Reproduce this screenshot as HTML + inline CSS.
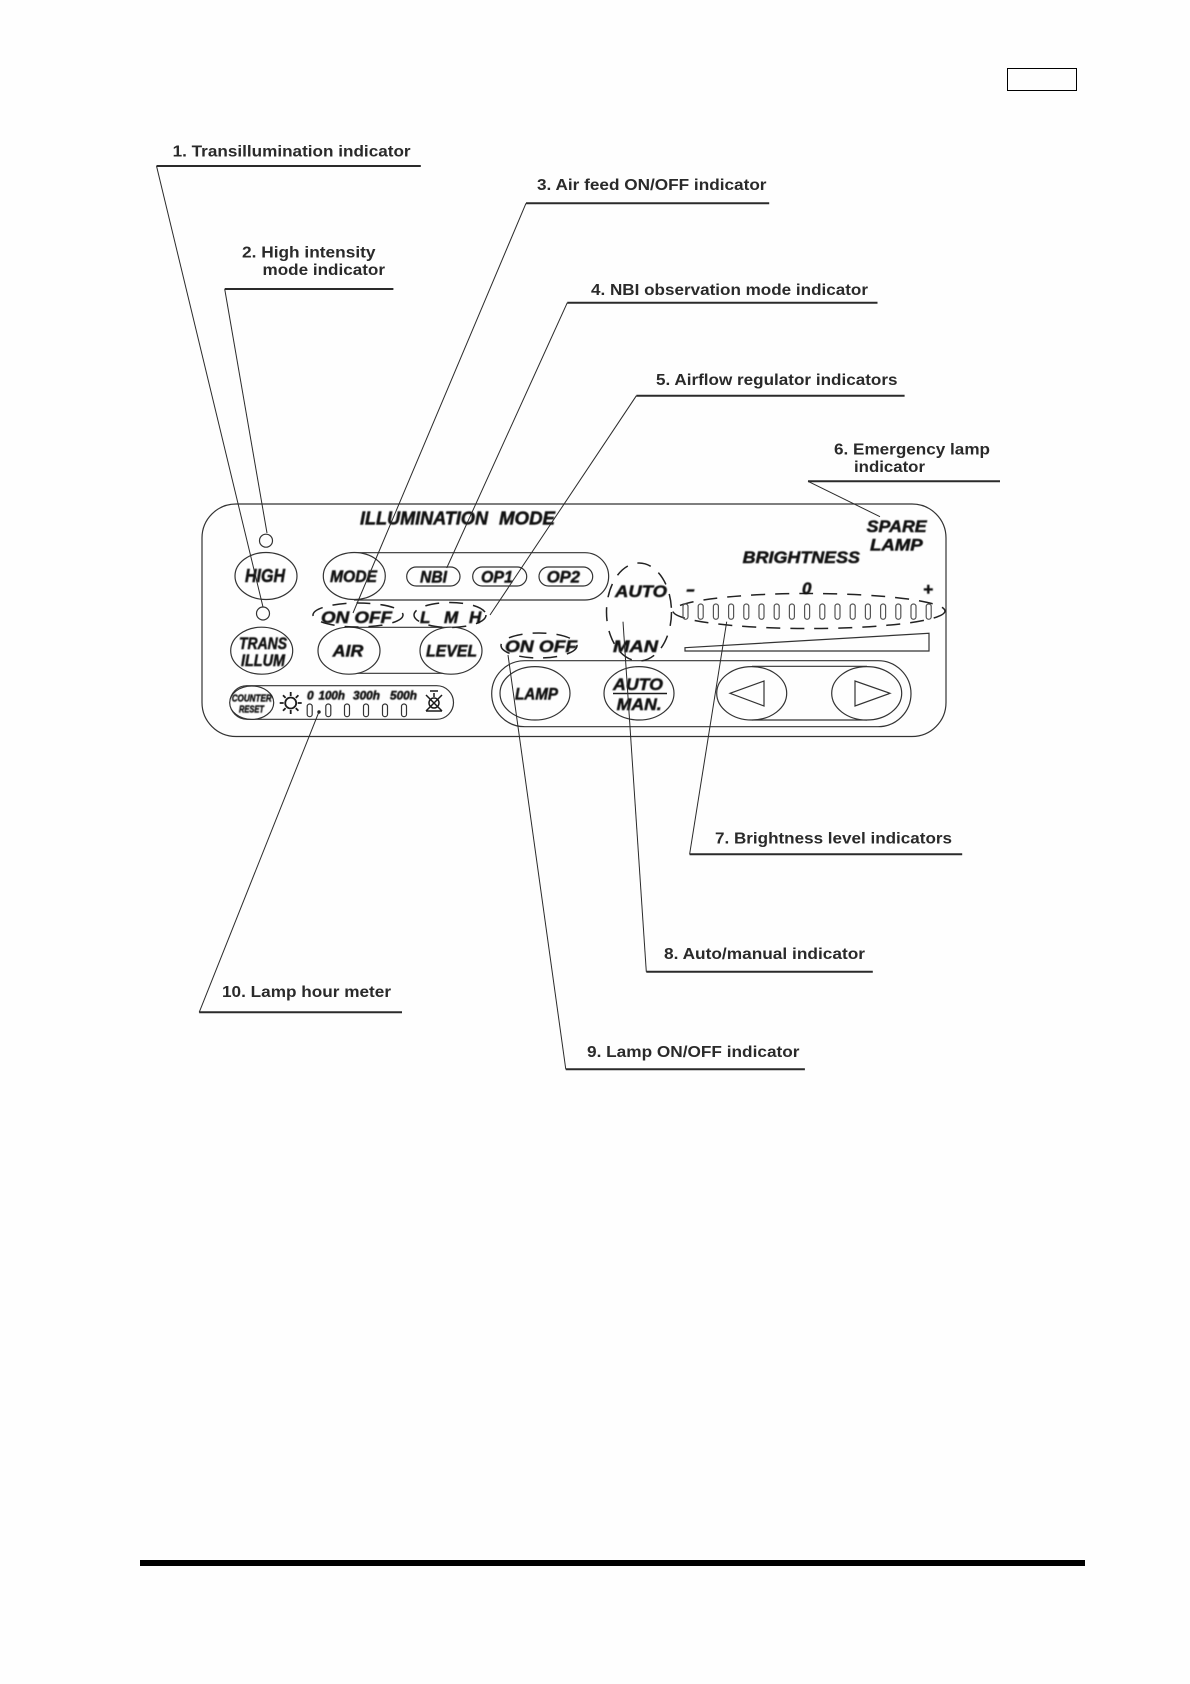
<!DOCTYPE html>
<html lang="en">
<head>
<meta charset="utf-8">
<title>Front panel indicators</title>
<style>
html,body{margin:0;padding:0;background:#fefefe;width:1190px;height:1684px;overflow:hidden}
svg{display:block}
.lb{font:bold 16px "Liberation Sans",sans-serif;fill:#2a2a2a;filter:blur(.35px)}
.p{font:italic bold 17px "Liberation Sans",sans-serif;fill:#111;stroke:#111;stroke-width:.5;filter:blur(.4px)}
.sm{font-size:12px}
.xs{font-size:10.5px}
.big{font-size:18px}
.o{fill:#fefefe;stroke:#333;stroke-width:1.2}
.n{fill:none;stroke:#333;stroke-width:1.2}
.d{fill:none;stroke:#222;stroke-width:1.5;stroke-dasharray:14 10}
.lead{stroke:#2a2a2a;stroke-width:1;fill:none}
.h{stroke:#2a2a2a;stroke-width:2}
</style>
</head>
<body>
<svg width="1190" height="1684" viewBox="0 0 1190 1684" xmlns="http://www.w3.org/2000/svg">
<rect width="1190" height="1684" fill="#fefefe"/>
<rect x="1007.5" y="68.5" width="69" height="22" fill="none" stroke="#000" stroke-width="1"/>
<rect x="140" y="1560" width="945" height="6" fill="#000"/>

<!-- panel -->
<rect x="202" y="504" width="744" height="232.5" rx="34" ry="34" class="n"/>
<path class="n" d="M354 552.7H585a23.6 23.6 0 0 1 0 47.3H354"/>
<path class="n" d="M349 627.3H451M349 673.3H451"/>
<rect x="230" y="685.7" width="223.5" height="33.6" rx="16.8" class="n"/>
<rect x="491.7" y="660.7" width="419.3" height="66" rx="33" class="n"/>
<path class="n" d="M752 666.3H867M752 720H867"/>
<path class="n" d="M685 647.7L929 633.3V651H685Z"/>

<circle cx="266" cy="540.7" r="6.5" class="n"/>
<circle cx="263" cy="613.5" r="6.5" class="n"/>
<ellipse cx="266" cy="576" rx="31" ry="23.5" class="o"/>
<ellipse cx="354.3" cy="576" rx="31" ry="23.5" class="o"/>
<ellipse cx="261.7" cy="650.7" rx="31" ry="23.5" class="o"/>
<ellipse cx="349" cy="650.7" rx="31" ry="23.5" class="o"/>
<ellipse cx="451" cy="650.7" rx="31" ry="23.5" class="o"/>
<rect x="406.7" y="567" width="53.3" height="19" rx="9.5" class="o"/>
<rect x="472.7" y="567" width="54" height="19" rx="9.5" class="o"/>
<rect x="539" y="567" width="53.7" height="19" rx="9.5" class="o"/>
<ellipse cx="251.7" cy="702.7" rx="22" ry="16.7" class="o"/>
<ellipse cx="535" cy="693.3" rx="35" ry="26.7" class="o"/>
<ellipse cx="639" cy="693.3" rx="35" ry="26.7" class="o"/>
<ellipse cx="751.7" cy="693.3" rx="35" ry="26.7" class="o"/>
<ellipse cx="866.7" cy="693.3" rx="35" ry="26.7" class="o"/>
<path class="n" d="M730 693.3L764 681V706Z"/>
<path class="n" d="M855 681V706L890 693.3Z"/>
<path d="M613 693.5H667" stroke="#1c1c1c" stroke-width="1.5"/>

<!-- dashed groups -->
<ellipse cx="358" cy="615" rx="45" ry="12" class="d"/>
<ellipse cx="450" cy="615" rx="36" ry="12.5" class="d"/>
<ellipse cx="539" cy="645.5" rx="38" ry="12.5" class="d"/>
<ellipse cx="639" cy="612" rx="32.5" ry="49" class="d"/>
<ellipse cx="809" cy="611" rx="136" ry="17.5" class="d"/>

<!-- lamp meter bars -->
<g class="n">
<rect x="307.2" y="704" width="5" height="12.7" rx="2.5"/>
<rect x="325.8" y="704" width="5" height="12.7" rx="2.5"/>
<rect x="344.5" y="704" width="5" height="12.7" rx="2.5"/>
<rect x="363.5" y="704" width="5" height="12.7" rx="2.5"/>
<rect x="382.5" y="704" width="5" height="12.7" rx="2.5"/>
<rect x="401.5" y="704" width="5" height="12.7" rx="2.5"/>
</g>
<circle cx="319" cy="712" r="1.7" fill="#222"/>

<!-- brightness bars -->
<g class="n" style="stroke:#555">
<rect x="683" y="604" width="5" height="15.3" rx="2.5"/>
<rect x="698.2" y="604" width="5" height="15.3" rx="2.5"/>
<rect x="713.4" y="604" width="5" height="15.3" rx="2.5"/>
<rect x="728.6" y="604" width="5" height="15.3" rx="2.5"/>
<rect x="743.8" y="604" width="5" height="15.3" rx="2.5"/>
<rect x="759" y="604" width="5" height="15.3" rx="2.5"/>
<rect x="774.2" y="604" width="5" height="15.3" rx="2.5"/>
<rect x="789.4" y="604" width="5" height="15.3" rx="2.5"/>
<rect x="804.6" y="604" width="5" height="15.3" rx="2.5"/>
<rect x="819.8" y="604" width="5" height="15.3" rx="2.5"/>
<rect x="835" y="604" width="5" height="15.3" rx="2.5"/>
<rect x="850.2" y="604" width="5" height="15.3" rx="2.5"/>
<rect x="865.4" y="604" width="5" height="15.3" rx="2.5"/>
<rect x="880.6" y="604" width="5" height="15.3" rx="2.5"/>
<rect x="895.8" y="604" width="5" height="15.3" rx="2.5"/>
<rect x="911" y="604" width="5" height="15.3" rx="2.5"/>
<rect x="926.2" y="604" width="5" height="15.3" rx="2.5"/>
</g>

<!-- sun icon -->
<g stroke="#1c1c1c" stroke-width="1.8" fill="none">
<circle cx="290.7" cy="703" r="5.5"/>
<path d="M290.7 692v4M290.7 710v4M279.7 703h4M297.7 703h4M283 695.3l2.6 2.6M295.8 708.1l2.6 2.6M283 710.7l2.6-2.6M295.8 697.9l2.6-2.6"/>
</g>
<!-- crossed lamp icon -->
<g stroke="#1c1c1c" stroke-width="1.5" fill="none">
<circle cx="434" cy="703" r="5"/>
<path d="M434 693v4M426 695l16 16M442 695l-16 16M426 711h16M430 691h8"/>
</g>

<!-- panel text -->
<g class="p">
<text class="big" x="360" y="524.5" textLength="128" lengthAdjust="spacingAndGlyphs">ILLUMINATION</text>
<text class="big" x="499" y="524.5" textLength="56" lengthAdjust="spacingAndGlyphs">MODE</text>
<text class="big" x="245" y="582" textLength="40" lengthAdjust="spacingAndGlyphs">HIGH</text>
<text x="330" y="582" textLength="47" lengthAdjust="spacingAndGlyphs">MODE</text>
<text x="420" y="582.7" textLength="27" lengthAdjust="spacingAndGlyphs">NBI</text>
<text x="481" y="582.7" textLength="32" lengthAdjust="spacingAndGlyphs">OP1</text>
<text x="546.7" y="582.7" textLength="33.3" lengthAdjust="spacingAndGlyphs">OP2</text>
<text x="239" y="649" textLength="48" lengthAdjust="spacingAndGlyphs">TRANS</text>
<text x="241" y="666" textLength="44" lengthAdjust="spacingAndGlyphs">ILLUM</text>
<text x="332.7" y="656.7" textLength="30.6" lengthAdjust="spacingAndGlyphs">AIR</text>
<text x="426" y="656.7" textLength="51" lengthAdjust="spacingAndGlyphs">LEVEL</text>
<text x="321" y="623" textLength="71" lengthAdjust="spacingAndGlyphs">ON OFF</text>
<text x="420" y="623">L</text>
<text x="444" y="623">M</text>
<text x="469" y="623">H</text>
<text x="505" y="652" textLength="72" lengthAdjust="spacingAndGlyphs">ON OFF</text>
<text x="615" y="597" textLength="52" lengthAdjust="spacingAndGlyphs">AUTO</text>
<text x="613" y="652" textLength="45" lengthAdjust="spacingAndGlyphs">MAN</text>
<text x="515" y="699.5" textLength="43" lengthAdjust="spacingAndGlyphs">LAMP</text>
<text x="613" y="690" textLength="50" lengthAdjust="spacingAndGlyphs">AUTO</text>
<text x="616.7" y="710" textLength="45" lengthAdjust="spacingAndGlyphs">MAN.</text>
<text x="742.7" y="563" textLength="117.3" lengthAdjust="spacingAndGlyphs">BRIGHTNESS</text>
<text x="866.7" y="532" textLength="60" lengthAdjust="spacingAndGlyphs">SPARE</text>
<text x="870" y="550.5" textLength="52.7" lengthAdjust="spacingAndGlyphs">LAMP</text>
<text x="686" y="595" textLength="9" lengthAdjust="spacingAndGlyphs">-</text>
<text x="802" y="594">0</text>
<text x="923" y="595">+</text>
<text class="xs" x="231.7" y="701.5" textLength="40" lengthAdjust="spacingAndGlyphs">COUNTER</text>
<text class="xs" x="239" y="712.5" textLength="25" lengthAdjust="spacingAndGlyphs">RESET</text>
<text class="sm" x="307" y="699.5">0</text>
<text class="sm" x="318.5" y="699.5" textLength="26.5" lengthAdjust="spacingAndGlyphs">100h</text>
<text class="sm" x="353" y="699.5" textLength="27" lengthAdjust="spacingAndGlyphs">300h</text>
<text class="sm" x="390" y="699.5" textLength="27" lengthAdjust="spacingAndGlyphs">500h</text>
</g>

<!-- leaders -->
<g class="lead">
<path d="M156.5 166L263 607"/>
<path d="M224.7 289L267 533"/>
<path d="M526 203.3L353 613"/>
<path d="M567.3 302.7L446.7 568"/>
<path d="M636.4 395.7L490 615"/>
<path d="M808 481.3L880 516.7"/>
<path d="M689.6 854.3L726.7 621.7"/>
<path d="M646.3 971.7L623 621.7"/>
<path d="M565.8 1069.3L508 655"/>
<path d="M199.2 1012.3L319 711.7"/>
</g>
<g class="h">
<path d="M156.5 166H420.8"/>
<path d="M224.7 289H393.4"/>
<path d="M526 203.3H769.2"/>
<path d="M567.3 302.7H877.5"/>
<path d="M636.4 395.7H904.6"/>
<path d="M808 481.3H1000"/>
<path d="M689.6 854.3H962.2"/>
<path d="M646.3 971.7H872.8"/>
<path d="M565.8 1069.3H804.9"/>
<path d="M199.2 1012.3H402"/>
</g>

<!-- labels -->
<g class="lb">
<text x="172.6" y="156.5" textLength="238" lengthAdjust="spacingAndGlyphs">1. Transillumination indicator</text>
<text x="242" y="257.5" textLength="133.5" lengthAdjust="spacingAndGlyphs">2. High intensity</text>
<text x="262.5" y="275" textLength="122.5" lengthAdjust="spacingAndGlyphs">mode indicator</text>
<text x="537" y="190" textLength="229.5" lengthAdjust="spacingAndGlyphs">3. Air feed ON/OFF indicator</text>
<text x="591" y="295" textLength="277" lengthAdjust="spacingAndGlyphs">4. NBI observation mode indicator</text>
<text x="656" y="385" textLength="241.5" lengthAdjust="spacingAndGlyphs">5. Airflow regulator indicators</text>
<text x="834" y="454.5" textLength="156" lengthAdjust="spacingAndGlyphs">6. Emergency lamp</text>
<text x="854" y="472" textLength="71" lengthAdjust="spacingAndGlyphs">indicator</text>
<text x="715" y="843.5" textLength="237" lengthAdjust="spacingAndGlyphs">7. Brightness level indicators</text>
<text x="664" y="959" textLength="201" lengthAdjust="spacingAndGlyphs">8. Auto/manual indicator</text>
<text x="587" y="1057" textLength="212.5" lengthAdjust="spacingAndGlyphs">9. Lamp ON/OFF indicator</text>
<text x="222" y="997" textLength="169" lengthAdjust="spacingAndGlyphs">10. Lamp hour meter</text>
</g>
</svg>
</body>
</html>
